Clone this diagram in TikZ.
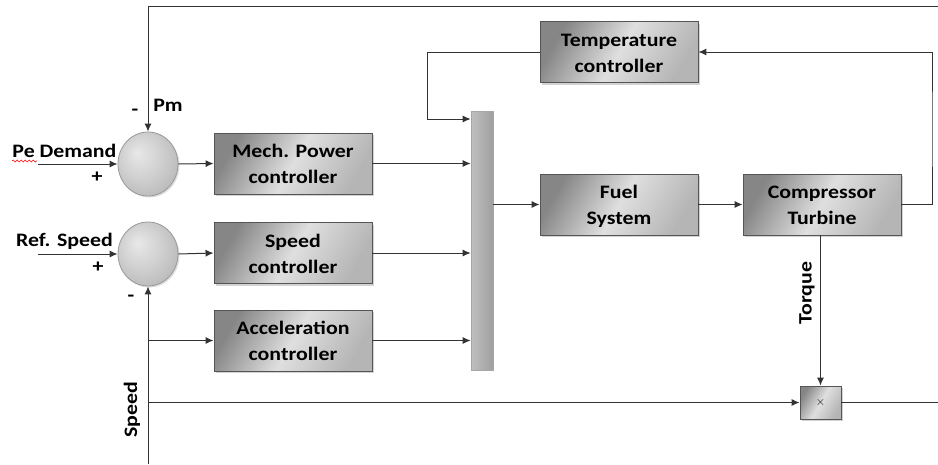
\documentclass[tikz,border=0pt]{standalone}
\usepackage{fontspec}
\setmainfont{Carlito}[FakeStretch=1.15]
\usetikzlibrary{arrows.meta,shadows,decorations.pathmorphing,shapes.geometric}
\definecolor{linec}{HTML}{333333}
\definecolor{edgec}{HTML}{555555}
\pgfdeclareradialshading{sumball}{\pgfpoint{-9bp}{9bp}}{color(0bp)=(gray!18); color(18bp)=(gray!38); color(42bp)=(gray!68); color(50bp)=(gray!72)}
\newcommand\twoline[2]{\begin{tabular}{@{}c@{}}\rule{0pt}{22.5pt}#1\\#2\end{tabular}}
\tikzset{
  blk/.style={draw=edgec, line width=0.9pt, minimum width=158, minimum height=61,
    align=center, font=\fontsize{19}{26}\selectfont\bfseries, inner sep=0pt,
    left color=gray!95, right color=gray!58, middle color=gray!25, shading angle=60,
    drop shadow={shadow xshift=2pt, shadow yshift=-2pt, opacity=0.35, fill=gray}},
  sumc/.style={ellipse, draw=gray!80, line width=0.8pt, minimum width=60, minimum height=64,
    inner sep=0pt, shading=sumball,
    drop shadow={shadow xshift=1.5pt, shadow yshift=-1.5pt, opacity=0.25, fill=gray}},
  barc/.style={draw=gray!70, line width=0.7pt, minimum width=22, minimum height=259, inner sep=0pt,
    left color=gray!50, middle color=gray!18, right color=gray!75},
  lbl/.style={font=\fontsize{19}{23}\selectfont\bfseries, inner sep=0pt},
  ln/.style={draw=linec, line width=1pt},
  arr/.style={ln, -{Latex[length=8pt,width=7pt]}}
}
\begin{document}
\begin{tikzpicture}[x=1pt,y=-1pt]
\useasboundingbox (0,0) rectangle (938,464);
% summing junctions
\node[sumc] (c1) at (148,164) {};
\node[sumc] (c2) at (148,254) {};
% blocks
\node[blk] (mech) at (293,163.5) {\twoline{Mech. Power}{controller}};
\node[blk] (spd) at (293,253) {\twoline{Speed}{controller}};
\node[blk] (acc) at (293,340.5) {\twoline{Acceleration}{controller}};
\node[blk] (temp) at (619,52) {\twoline{Temperature}{controller}};
\node[blk] (fuel) at (619,204.5) {\twoline{Fuel}{System}};
\node[blk] (comp) at (822,204.5) {\twoline{Compressor}{Turbine}};
\node[barc] (bar) at (482,240.5) {};
\node[blk, minimum width=41, minimum height=33, font=\fontsize{12}{12}\selectfont] (mult) at (820.5,402.5) {$\times$};
% coordinates
\coordinate (tr) at (938,6);
\coordinate (pein) at (38,164);
\coordinate (refin) at (38,254);
\coordinate (sp0) at (148,464);
\coordinate (b1) at (148,340.5);
\coordinate (b2) at (148,402.5);
\coordinate (tl2) at (427,119);
\coordinate (rc) at (932,130);
\coordinate (out) at (938,402.5);
% connectors
\draw[arr] (tr) -| (c1.north);
\draw[arr] (pein) -- (c1.west);
\draw[arr] (refin) -- (c2.west);
\draw[arr] (sp0) -- (c2.south);
\draw[arr] (b1) -- (acc.west);
\draw[arr] (b2) -- (mult.west);
\draw[arr] (c1.east) -- (mech.west);
\draw[arr] (c2.east) -- (spd.west);
\draw[arr] (mech.east) -- (mech.east -| bar.west);
\draw[arr] (spd.east) -- (spd.east -| bar.west);
\draw[arr] (acc.east) -- (acc.east -| bar.west);
\draw[arr] (temp.west) -| (tl2) -- (tl2 -| bar.west);
\draw[arr] (fuel.west -| bar.east) -- (fuel.west);
\draw[arr] (fuel.east) -- (comp.west);
\draw[arr] (comp.east) -| (rc) |- (temp.east);
\draw[arr] (comp.south -| mult.north) -- (mult.north);
\draw[ln] (mult.east) -- (out);
% labels
\node[lbl] (pe) at (64.5,151) {Pe Demand};
\draw[red, line width=0.6pt, decorate, decoration={snake, amplitude=0.9pt, segment length=4pt}] (12,161) -- (37,161);
\node[lbl] (pl1) at (97,177) {+};
\node[lbl] (mn1) at (135,112) {-};
\node[lbl] (pm) at (168,105) {Pm};
\node[lbl] (ref) at (64.5,241) {Ref. Speed};
\node[lbl] (pl2) at (98,267) {+};
\node[lbl] (mn2) at (131,298) {-};
\node[lbl, rotate=90] (spl) at (132,410) {Speed};
\node[lbl, rotate=90] (tq) at (807,293) {Torque};
\end{tikzpicture}
\end{document}
